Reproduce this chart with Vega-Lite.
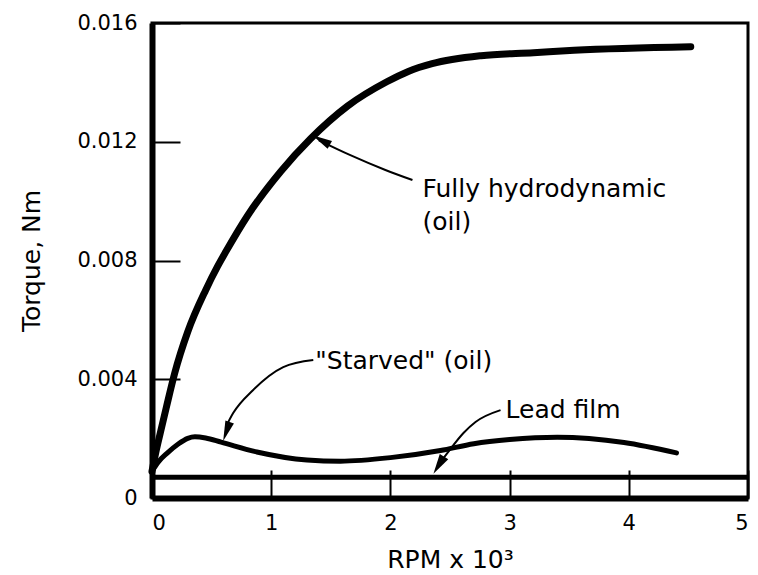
{
  "$schema": "https://vega.github.io/schema/vega-lite/v6.json",
  "width": 596,
  "height": 475,
  "autosize": {"type": "none"},
  "padding": {"left": 152, "top": 23, "right": 10, "bottom": 77},
  "background": "white",
  "config": {
    "font": "DejaVu Sans",
    "view": {"stroke": "black", "strokeWidth": 3},
    "axis": {
      "domainColor": "black",
      "domainWidth": 6,
      "tickColor": "black",
      "tickWidth": 2,
      "tickSize": -28,
      "grid": false,
      "labelFont": "DejaVu Sans",
      "labelFontSize": 21,
      "labelColor": "black",
      "titleFont": "DejaVu Sans",
      "titleFontSize": 25,
      "titleFontWeight": "normal",
      "titleColor": "black"
    }
  },
  "datasets": {
    "curves": [
      {"series": "Fully hydrodynamic (oil)", "rpm": 0.0, "torque": 0.0009},
      {"series": "Fully hydrodynamic (oil)", "rpm": 0.03, "torque": 0.0015},
      {"series": "Fully hydrodynamic (oil)", "rpm": 0.07, "torque": 0.0022},
      {"series": "Fully hydrodynamic (oil)", "rpm": 0.12, "torque": 0.00305},
      {"series": "Fully hydrodynamic (oil)", "rpm": 0.19, "torque": 0.0042},
      {"series": "Fully hydrodynamic (oil)", "rpm": 0.30, "torque": 0.0056},
      {"series": "Fully hydrodynamic (oil)", "rpm": 0.45, "torque": 0.0070},
      {"series": "Fully hydrodynamic (oil)", "rpm": 0.55, "torque": 0.0078},
      {"series": "Fully hydrodynamic (oil)", "rpm": 0.62, "torque": 0.0083},
      {"series": "Fully hydrodynamic (oil)", "rpm": 0.80, "torque": 0.0095},
      {"series": "Fully hydrodynamic (oil)", "rpm": 1.08, "torque": 0.0110},
      {"series": "Fully hydrodynamic (oil)", "rpm": 1.33, "torque": 0.0121},
      {"series": "Fully hydrodynamic (oil)", "rpm": 1.64, "torque": 0.0132},
      {"series": "Fully hydrodynamic (oil)", "rpm": 1.97, "torque": 0.01402},
      {"series": "Fully hydrodynamic (oil)", "rpm": 2.15, "torque": 0.01437},
      {"series": "Fully hydrodynamic (oil)", "rpm": 2.35, "torque": 0.01463},
      {"series": "Fully hydrodynamic (oil)", "rpm": 2.76, "torque": 0.0149},
      {"series": "Fully hydrodynamic (oil)", "rpm": 3.20, "torque": 0.0150},
      {"series": "Fully hydrodynamic (oil)", "rpm": 3.54, "torque": 0.01508},
      {"series": "Fully hydrodynamic (oil)", "rpm": 4.52, "torque": 0.0152},
      {"series": "Starved (oil)", "rpm": 0.0, "torque": 0.0009},
      {"series": "Starved (oil)", "rpm": 0.05, "torque": 0.0012},
      {"series": "Starved (oil)", "rpm": 0.13, "torque": 0.00152},
      {"series": "Starved (oil)", "rpm": 0.22, "torque": 0.00182},
      {"series": "Starved (oil)", "rpm": 0.30, "torque": 0.00201},
      {"series": "Starved (oil)", "rpm": 0.36, "torque": 0.00206},
      {"series": "Starved (oil)", "rpm": 0.45, "torque": 0.00202},
      {"series": "Starved (oil)", "rpm": 0.58, "torque": 0.00188},
      {"series": "Starved (oil)", "rpm": 0.88, "torque": 0.00155},
      {"series": "Starved (oil)", "rpm": 1.30, "torque": 0.00128},
      {"series": "Starved (oil)", "rpm": 1.58, "torque": 0.00124},
      {"series": "Starved (oil)", "rpm": 2.0, "torque": 0.00136},
      {"series": "Starved (oil)", "rpm": 2.42, "torque": 0.0016},
      {"series": "Starved (oil)", "rpm": 2.70, "torque": 0.00183},
      {"series": "Starved (oil)", "rpm": 3.0, "torque": 0.00197},
      {"series": "Starved (oil)", "rpm": 3.40, "torque": 0.00205},
      {"series": "Starved (oil)", "rpm": 3.96, "torque": 0.00187},
      {"series": "Starved (oil)", "rpm": 4.40, "torque": 0.00152},
      {"series": "Lead film", "rpm": 0.0, "torque": 0.0007},
      {"series": "Lead film", "rpm": 5.0, "torque": 0.0007}
    ],
    "leaders": [
      {"label": "Fully hydrodynamic", "rpm": 1.40, "torque": 0.01205},
      {"label": "Fully hydrodynamic", "rpm": 1.664, "torque": 0.01155},
      {"label": "Fully hydrodynamic", "rpm": 1.958, "torque": 0.01105},
      {"label": "Fully hydrodynamic", "rpm": 2.185, "torque": 0.01071},
      {"label": "Starved", "rpm": 1.353, "torque": 0.00465},
      {"label": "Starved", "rpm": 1.101, "torque": 0.00441},
      {"label": "Starved", "rpm": 0.849, "torque": 0.00364},
      {"label": "Starved", "rpm": 0.681, "torque": 0.00286},
      {"label": "Starved", "rpm": 0.62, "torque": 0.0024},
      {"label": "Lead film", "rpm": 2.924, "torque": 0.00296},
      {"label": "Lead film", "rpm": 2.714, "torque": 0.00256},
      {"label": "Lead film", "rpm": 2.613, "torque": 0.00219},
      {"label": "Lead film", "rpm": 2.479, "torque": 0.00152},
      {"label": "Lead film", "rpm": 2.40, "torque": 0.0011}
    ],
    "arrows": [
      {"label": "Fully hydrodynamic", "rpm": 1.345, "torque": 0.01222},
      {"label": "Starved", "rpm": 0.597, "torque": 0.00192},
      {"label": "Lead film", "rpm": 2.361, "torque": 0.00082}
    ],
    "labels": [
      {"text": "Fully hydrodynamic", "rpm": 2.269, "torque": 0.01041},
      {"text": "(oil)", "rpm": 2.269, "torque": 0.0093},
      {"text": "\"Starved\" (oil)", "rpm": 1.37, "torque": 0.00463},
      {"text": "Lead film", "rpm": 2.966, "torque": 0.00298}
    ]
  },
  "encoding": {
    "x": {
      "field": "rpm",
      "type": "quantitative",
      "scale": {"domain": [0, 5], "nice": false, "zero": false},
      "axis": {"title": "RPM x 10³", "values": [0, 1, 2, 3, 4, 5], "labelPadding": 42, "titlePadding": 14}
    },
    "y": {
      "field": "torque",
      "type": "quantitative",
      "scale": {"domain": [0, 0.016], "nice": false, "zero": false},
      "axis": {
        "title": "Torque, Nm",
        "values": [0, 0.004, 0.008, 0.012, 0.016],
        "labelExpr": "datum.value == 0 ? '0' : format(datum.value, '.3f')",
        "labelPadding": 43,
        "titlePadding": 32
      }
    }
  },
  "layer": [
    {
      "data": {"name": "curves"},
      "transform": [{"filter": "datum.series == 'Fully hydrodynamic (oil)'"}],
      "mark": {"type": "line", "color": "black", "strokeWidth": 7, "interpolate": "monotone", "strokeCap": "round"}
    },
    {
      "data": {"name": "curves"},
      "transform": [{"filter": "datum.series == 'Starved (oil)'"}],
      "mark": {"type": "line", "color": "black", "strokeWidth": 5, "interpolate": "monotone", "strokeCap": "round"}
    },
    {
      "data": {"name": "curves"},
      "transform": [{"filter": "datum.series == 'Lead film'"}],
      "mark": {"type": "line", "color": "black", "strokeWidth": 5}
    },
    {
      "data": {"name": "leaders"},
      "mark": {"type": "line", "color": "black", "strokeWidth": 2, "interpolate": "monotone"},
      "encoding": {"detail": {"field": "label"}}
    },
    {
      "data": {"name": "arrows"},
      "transform": [{"filter": "datum.label == 'Fully hydrodynamic'"}],
      "mark": {"type": "point", "shape": "M0,0L-0.45,2L0.45,2Z", "filled": true, "color": "black", "opacity": 1, "size": 400, "angle": 299}
    },
    {
      "data": {"name": "arrows"},
      "transform": [{"filter": "datum.label == 'Starved'"}],
      "mark": {"type": "point", "shape": "M0,0L-0.45,2L0.45,2Z", "filled": true, "color": "black", "opacity": 1, "size": 400, "angle": 199}
    },
    {
      "data": {"name": "arrows"},
      "transform": [{"filter": "datum.label == 'Lead film'"}],
      "mark": {"type": "point", "shape": "M0,0L-0.5,2L0.5,2Z", "filled": true, "color": "black", "opacity": 1, "size": 400, "angle": 212}
    },
    {
      "data": {"name": "labels"},
      "mark": {"type": "text", "align": "left", "baseline": "middle", "fontSize": 25, "color": "black", "font": "DejaVu Sans"},
      "encoding": {"text": {"field": "text"}}
    }
  ]
}
